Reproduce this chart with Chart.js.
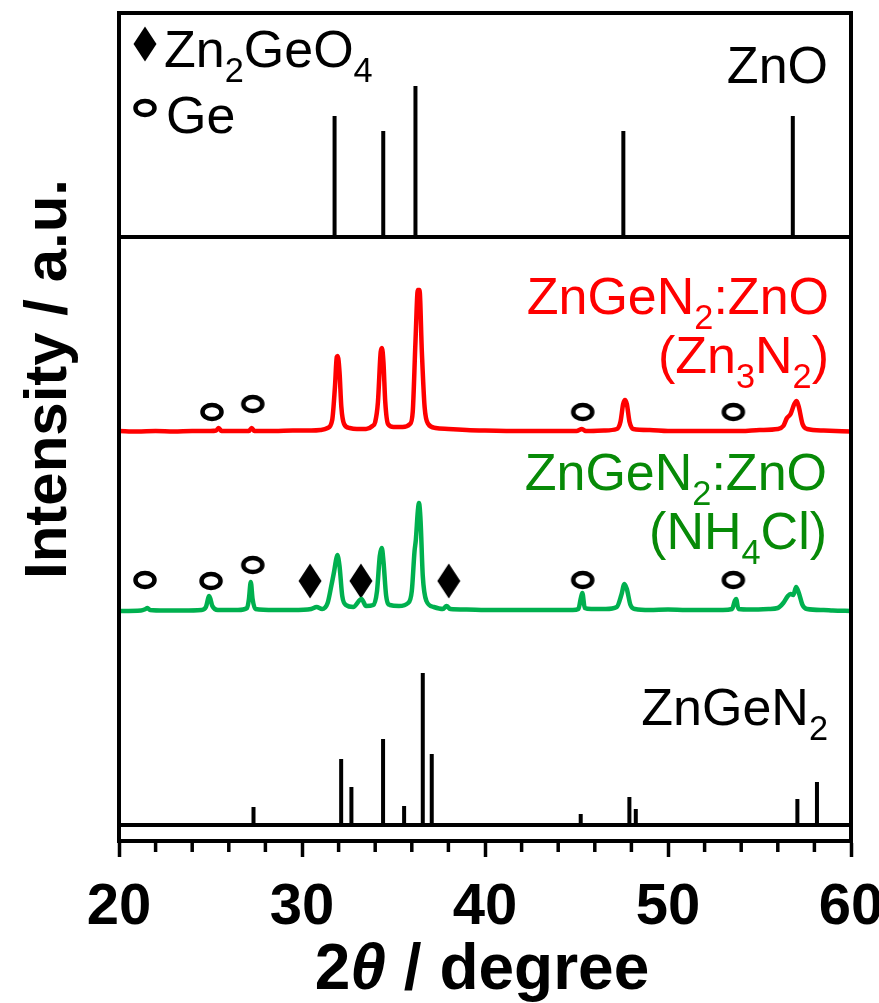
<!DOCTYPE html>
<html>
<head>
<meta charset="utf-8">
<script src="https://cdn.jsdelivr.net/npm/chart.js@4.4.1/dist/chart.umd.min.js"></script>
<style>
  html, body { margin: 0; padding: 0; background: #fff; }
  #wrap { width: 879px; height: 1003px; }
</style>
</head>
<body>
<div id="wrap"><canvas id="xrd"></canvas></div>
<script>
// ===== DATA =====
// reference sticks: 2θ (deg) and relative intensity (a.u.)
const znoTheta = [31.78, 34.44, 36.2, 47.56, 56.82];
const znoInt   = [121, 106, 151, 106, 121];

const zgnTheta = [27.35, 32.14, 32.7, 34.43, 35.58, 36.6, 37.09, 45.23, 47.89, 48.24, 57.07, 58.14];
const zgnInt   = [18, 66, 38, 86, 19, 152, 71, 11, 28, 16, 26, 43];

// measured pattern, Zn3N2 route
const redTheta = [20, 21, 22, 23, 24, 25, 25.3, 25.45, 25.6, 26.5, 27.1, 27.25, 27.4, 28.5, 29.5, 30.5,
  31, 31.4, 31.65, 31.8, 31.9, 31.95, 32.05, 32.15, 32.3, 32.6, 33, 33.5, 33.85, 34, 34.15, 34.3,
  34.37, 34.45, 34.55, 34.7, 35, 35.5, 35.9, 36.05, 36.2, 36.33, 36.42, 36.55, 36.7, 36.9, 37.3,
  38, 39, 40, 42, 44, 45, 45.3, 45.5, 46.5, 47.2, 47.4, 47.55, 47.65, 47.75, 47.9, 48.1, 49, 50,
  52, 54, 55, 56, 56.3, 56.5, 56.7, 56.9, 57.03, 57.15, 57.35, 57.6, 58.5, 60];
const redInt = [1, 0.5, 1, 0.5, 1, 1, 1.5, 4, 1, 1, 1, 4, 1, 1, 1.5, 1.5,
  2, 4, 12, 45, 75, 76, 60, 25, 8, 4, 3, 3, 6, 10, 30, 80,
  84, 70, 30, 8, 5, 5, 8, 20, 90, 142, 142, 80, 25, 8, 4,
  3, 2, 1.5, 1, 1, 1, 3, 1, 1.5, 3, 10, 28, 32, 28, 10, 3, 2, 1,
  1, 1, 2, 3, 6, 14, 18, 28, 31, 25, 8, 3, 1.5, 0.5];

// measured pattern, NH4Cl route
const greenTheta = [20, 21.2, 21.45, 21.55, 21.7, 22.5, 23.5, 24.5, 24.75, 24.93, 25.1, 25.4, 26.5,
  27, 27.1, 27.2, 27.3, 27.45, 28.5, 29.5, 30.5, 30.8, 31.1, 31.4, 31.6, 31.75, 31.85, 31.93, 32.05,
  32.2, 32.4, 32.8, 33.25, 33.5, 33.9, 34.1, 34.25, 34.36, 34.45, 34.6, 34.8, 35.3, 35.8, 36,
  36.15, 36.22, 36.33, 36.39, 36.48, 36.6, 36.8, 37.2, 37.7, 37.9, 38.1, 39, 40, 41, 42, 43, 44,
  44.8, 45.1, 45.25, 45.32, 45.45, 45.8, 46.6, 47.2, 47.45, 47.62, 47.75, 47.95, 48.2, 49, 50, 51,
  52, 53, 53.5, 53.65, 53.72, 53.85, 54.5, 55.5, 56, 56.3, 56.55, 56.7, 56.85, 57, 57.15, 57.35,
  57.6, 58.5, 59, 60];
const greenInt = [0, 0.5, 2, 3, 1, 0.5, 0.5, 1, 4, 15, 5, 1, 1,
  3, 12, 29, 12, 2, 1, 1, 2, 4, 2, 8, 25, 39, 50, 56, 45,
  15, 6, 4, 12, 5, 6, 20, 55, 63, 50, 15, 6, 5, 8, 20,
  60, 71, 100, 108, 90, 35, 10, 4, 2, 5, 2, 1.5, 1, 1, 1, 1, 1,
  1, 2, 14, 18, 3, 2, 2, 4, 16, 27, 22, 6, 2, 1, 1.5, 1,
  1, 1, 2, 10, 12, 2, 1.5, 2, 3, 8, 15, 17, 16, 24, 18, 6,
  2, 1, 0.5, 0];

// phase marks: 2θ and height above each pattern
const geRedTheta   = [25.08, 27.31, 45.34, 53.57];
const geRedH       = [20, 28, 20, 20];
const geGreenTheta = [21.42, 25.03, 27.31, 45.34, 53.57];
const geGreenH     = [31, 30, 46, 31, 31];
const zgoTheta     = [30.44, 33.22, 38.02];
const zgoH         = [30, 30, 30];

// vertical offsets of each trace (a.u.)
const OFF_ZGN = 16, OFF_GREEN = 230, OFF_RED = 409, OFF_ZNO = 604, Y_TOP = 828;

const RED = '#ff0000';
const GREEN_LINE = '#00b04f';
const GREEN_TEXT = '#078a07';
const FONT = '"Liberation Sans", Arial, sans-serif';

// ===== HELPERS =====
function sticks(theta, ints, off) {
  const pts = [];
  theta.forEach((t, i) => {
    pts.push({ x: t, y: off }, { x: t, y: off + ints[i] }, { x: t, y: null });
  });
  return pts;
}
const trace = (theta, ints, off) => theta.map((t, i) => ({ x: t, y: off + ints[i] }));
const marks = (theta, h, off) => theta.map((t, i) => ({ x: t, y: off + h[i] }));
const baseLine = off => [{ x: 20, y: off }, { x: 60, y: off }];

function ringIcon() {
  const c = document.createElement('canvas');
  c.width = 28; c.height = 24;
  const g = c.getContext('2d');
  g.lineWidth = 4.5;
  g.strokeStyle = '#000';
  g.beginPath();
  g.ellipse(14, 12, 9.5, 7, 0, 0, Math.PI * 2);
  g.stroke();
  return c;
}
function diamondIcon() {
  const c = document.createElement('canvas');
  c.width = 24; c.height = 36;
  const g = c.getContext('2d');
  g.fillStyle = '#000';
  g.beginPath();
  g.moveTo(12, 0.5); g.lineTo(23.5, 18); g.lineTo(12, 35.5); g.lineTo(0.5, 18);
  g.closePath();
  g.fill();
  return c;
}
const RING = ringIcon();
const DIAMOND = diamondIcon();

// text with subscripts: parts = [[text, isSub], ...]
function drawRich(ctx, parts, x, y, size, color, align) {
  const subSize = size * 0.66;
  let w = 0;
  parts.forEach(([t, sub]) => {
    ctx.font = `${sub ? subSize : size}px ${FONT}`;
    w += ctx.measureText(t).width;
  });
  let cx = align === 'right' ? x - w : x;
  ctx.fillStyle = color;
  ctx.textAlign = 'left';
  ctx.textBaseline = 'alphabetic';
  parts.forEach(([t, sub]) => {
    ctx.font = `${sub ? subSize : size}px ${FONT}`;
    ctx.fillText(t, cx, sub ? y + size * 0.28 : y);
    cx += ctx.measureText(t).width;
  });
}

// ===== PLUGIN: frame, minor ticks, labels =====
const decorations = {
  id: 'decorations',
  afterDraw(chart) {
    const { ctx, chartArea: a, scales: { x } } = chart;
    ctx.save();
    ctx.strokeStyle = '#000';
    ctx.lineWidth = 4;
    ctx.strokeRect(a.left, a.top, a.right - a.left, a.bottom - a.top);

    // minor ticks
    ctx.lineWidth = 3.5;
    x.ticks.forEach(t => {
      if (t.value % 10 === 0) return;
      const px = x.getPixelForValue(t.value);
      ctx.beginPath();
      ctx.moveTo(px, a.bottom);
      ctx.lineTo(px, a.bottom + 11);
      ctx.stroke();
    });

    const S = 52;
    // legend
    ctx.drawImage(DIAMOND, 133, 26);
    drawRich(ctx, [['Zn'], ['2', 1], ['GeO'], ['4', 1]], 164, 67, S, '#000', 'left');
    ctx.drawImage(RING, 131, 96);
    drawRich(ctx, [['Ge']], 166, 133, S, '#000', 'left');

    drawRich(ctx, [['ZnO']], 828, 83, S, '#000', 'right');
    drawRich(ctx, [['ZnGeN'], ['2', 1], [':ZnO']], 829, 314, S, RED, 'right');
    drawRich(ctx, [['(Zn'], ['3', 1], ['N'], ['2', 1], [')']], 829, 373, S, RED, 'right');
    drawRich(ctx, [['ZnGeN'], ['2', 1], [':ZnO']], 827, 490, S, GREEN_TEXT, 'right');
    drawRich(ctx, [['(NH'], ['4', 1], ['Cl)']], 827, 549, S, GREEN_TEXT, 'right');
    drawRich(ctx, [['ZnGeN'], ['2', 1]], 828, 725, S, '#000', 'right');

    // axis titles
    ctx.fillStyle = '#000';
    ctx.textBaseline = 'alphabetic';
    ctx.save();
    ctx.translate(66, 379);
    ctx.rotate(-Math.PI / 2);
    ctx.font = `bold 60px ${FONT}`;
    ctx.textAlign = 'center';
    ctx.fillText('Intensity / a.u.', 0, 0);
    ctx.restore();

    const segs = [['2', 'bold'], ['θ', 'italic bold'], [' / degree', 'bold']];
    const TS = 64;
    let w = 0;
    segs.forEach(([t, f]) => { ctx.font = `${f} ${TS}px ${FONT}`; w += ctx.measureText(t).width; });
    let cx = 482 - w / 2;
    ctx.textAlign = 'left';
    segs.forEach(([t, f]) => {
      ctx.font = `${f} ${TS}px ${FONT}`;
      ctx.fillText(t, cx, 989);
      cx += ctx.measureText(t).width;
    });
    ctx.restore();
  }
};

// ===== CHART =====
const black = { borderColor: '#000', pointRadius: 0, fill: false };

new Chart(document.getElementById('xrd'), {
  type: 'line',
  data: {
    datasets: [
      { ...black, label: 'ZnO ref', data: sticks(znoTheta, znoInt, OFF_ZNO), borderWidth: 4, spanGaps: false },
      { ...black, label: 'ZnO base', data: baseLine(OFF_ZNO), borderWidth: 4 },
      { ...black, label: 'ZnGeN2 ref', data: sticks(zgnTheta, zgnInt, OFF_ZGN), borderWidth: 4, spanGaps: false },
      { ...black, label: 'ZnGeN2 base', data: baseLine(OFF_ZGN), borderWidth: 4 },
      {
        label: 'ZnGeN2:ZnO (Zn3N2)', data: trace(redTheta, redInt, OFF_RED),
        borderColor: RED, borderWidth: 4.5, pointRadius: 0, cubicInterpolationMode: 'monotone'
      },
      {
        label: 'ZnGeN2:ZnO (NH4Cl)', data: trace(greenTheta, greenInt, OFF_GREEN),
        borderColor: GREEN_LINE, borderWidth: 4.5, pointRadius: 0, cubicInterpolationMode: 'monotone'
      },
      {
        label: 'Ge', data: [...marks(geRedTheta, geRedH, OFF_RED), ...marks(geGreenTheta, geGreenH, OFF_GREEN)],
        showLine: false, pointStyle: RING, pointRadius: 10
      },
      {
        label: 'Zn2GeO4', data: marks(zgoTheta, zgoH, OFF_GREEN),
        showLine: false, pointStyle: DIAMOND, pointRadius: 12
      }
    ]
  },
  options: {
    responsive: true,
    maintainAspectRatio: false,
    animation: false,
    events: [],
    layout: { padding: { left: 119, right: 28, top: 13, bottom: 0 } },
    plugins: { legend: { display: false }, tooltip: { enabled: false } },
    scales: {
      x: {
        type: 'linear',
        min: 20, max: 60,
        afterFit: s => { s.height = 162; s.paddingLeft = 0; s.paddingRight = 0; },
        ticks: {
          stepSize: 2,
          autoSkip: false,
          maxRotation: 0,
          padding: 16,
          color: '#000',
          font: { family: FONT, weight: 'bold', size: 58 },
          callback: v => (v % 10 === 0 ? v : '')
        },
        grid: {
          drawOnChartArea: false,
          tickLength: 16,
          tickWidth: 3.5,
          tickColor: c => (c.tick && c.tick.value % 10 === 0 ? '#000' : 'rgba(0,0,0,0)')
        },
        border: { display: true, color: '#000', width: 4 }
      },
      y: { display: false, min: 0, max: Y_TOP }
    }
  },
  plugins: [decorations]
});
</script>
</body>
</html>
